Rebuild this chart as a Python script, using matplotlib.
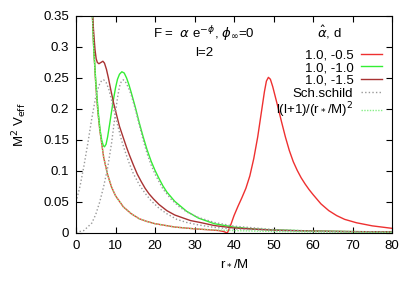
"""Effective potential M^2 V_eff vs tortoise coordinate r*/M (l=2)."""

import matplotlib
matplotlib.use("Agg")
import matplotlib.pyplot as plt

plt.rcParams["font.family"] = ["Liberation Sans", "DejaVu Sans"]
plt.rcParams["mathtext.fontset"] = "dejavusans"

# --- data -----------------------------------------------------------------
# alpha_hat = 1.0, d = -0.5
red_x = [4.0, 4.5, 5.0, 5.5, 6.0, 7.0, 8.0, 9.0, 10.0, 12.0, 14.0, 16.0, 18.0,
         20.0, 25.0, 30.0, 34.0, 36.0, 37.3, 38.3, 39.0, 40.0, 41.0, 42.0, 43.0,
         44.0, 45.0, 46.0, 47.0, 47.7, 48.2, 48.7, 49.2, 49.8, 50.4, 51.0, 52.0,
         53.0, 54.0, 55.0, 56.0, 57.0, 58.0, 59.0, 60.0, 62.0, 64.0, 66.0, 68.0,
         71.0, 75.0, 80.0]
red_y = [0.375, 0.296, 0.240, 0.198, 0.167, 0.122, 0.094, 0.074, 0.060, 0.042,
         0.031, 0.023, 0.0185, 0.015, 0.0096, 0.0067, 0.0050, 0.0040, 0.0025,
         0.0, 0.010, 0.028, 0.043, 0.057, 0.072, 0.092, 0.120, 0.155, 0.198,
         0.228, 0.245, 0.251, 0.248, 0.236, 0.221, 0.206, 0.180, 0.155, 0.133,
         0.115, 0.101, 0.089, 0.079, 0.070, 0.062, 0.047, 0.036, 0.028, 0.022,
         0.0165, 0.0115, 0.0075]

# alpha_hat = 1.0, d = -1.0
green_x = [4.0, 4.5, 5.0, 5.3, 5.7, 6.1, 6.5, 6.9, 7.2, 7.6, 8.0, 8.5, 9.0, 9.5,
           10.0, 10.5, 11.0, 11.6, 12.2, 12.8, 13.4, 14.0, 15.0, 16.0, 17.0,
           18.0, 19.0, 20.0, 21.0, 22.0, 23.0, 25.0, 28.0, 31.0, 35.0, 40.0,
           45.0, 50.0, 60.0, 70.0, 80.0]
green_y = [0.375, 0.296, 0.245, 0.220, 0.190, 0.166, 0.150, 0.141, 0.139, 0.143,
           0.155, 0.175, 0.196, 0.216, 0.234, 0.248, 0.256, 0.260, 0.258, 0.250,
           0.239, 0.226, 0.203, 0.178, 0.155, 0.134, 0.116, 0.101, 0.088, 0.076,
           0.066, 0.051, 0.035, 0.024, 0.015, 0.0095, 0.0065, 0.005, 0.0032,
           0.0023, 0.0017]

# alpha_hat = 1.0, d = -1.5
brown_x = [4.0, 4.4, 4.8, 5.1, 5.4, 5.8, 6.3, 6.8, 7.2, 7.7, 8.2, 8.8, 9.5,
           10.2, 11.0, 12.0, 12.8, 13.5, 14.5, 15.5, 16.5, 17.5, 18.5, 19.6,
           21.0, 23.0, 25.0, 27.2, 29.0, 31.4, 35.0, 40.0, 50.0, 60.0, 70.0, 80.0]
brown_y = [0.375, 0.330, 0.296, 0.281, 0.275, 0.273, 0.275, 0.277, 0.274, 0.264,
           0.250, 0.231, 0.210, 0.192, 0.172, 0.153, 0.138, 0.126, 0.110, 0.095,
           0.083, 0.072, 0.063, 0.055, 0.046, 0.036, 0.029, 0.024, 0.020, 0.017,
           0.012, 0.008, 0.0045, 0.003, 0.0022, 0.0017]

# Schwarzschild curves (two, same style)
sch1_x = [0.0, 1.0, 2.0, 3.0, 4.0, 5.0, 5.8, 6.5, 7.0, 7.6, 8.3, 9.0, 9.5, 10.5,
          11.5, 12.4, 13.5, 14.5, 16.0, 17.5, 19.0, 21.0, 23.0, 25.5, 28.0,
          31.0, 35.0, 40.0, 50.0, 60.0, 70.0, 80.0]
sch1_y = [0.050, 0.075, 0.108, 0.145, 0.185, 0.220, 0.238, 0.246, 0.247, 0.243,
          0.232, 0.214, 0.200, 0.175, 0.150, 0.132, 0.112, 0.096, 0.078, 0.064,
          0.052, 0.040, 0.031, 0.022, 0.017, 0.013, 0.009, 0.0065, 0.004,
          0.0025, 0.0018, 0.0013]
sch2_x = [0.0, 2.0, 4.0, 5.0, 6.0, 7.0, 8.0, 9.0, 9.5, 10.0, 10.5, 11.0, 11.5,
          12.0, 12.5, 13.3, 14.0, 15.0, 16.0, 17.0, 18.0, 19.0, 20.0, 22.0,
          24.0, 26.0, 28.0, 31.0, 35.0, 40.0, 50.0, 60.0, 70.0, 80.0]
sch2_y = [0.001, 0.004, 0.016, 0.030, 0.050, 0.075, 0.105, 0.145, 0.170, 0.195,
          0.218, 0.236, 0.245, 0.247, 0.244, 0.234, 0.222, 0.200, 0.175, 0.150,
          0.128, 0.110, 0.095, 0.071, 0.055, 0.043, 0.034, 0.025, 0.017, 0.011,
          0.0055, 0.0032, 0.0021, 0.0015]

# l(l+1)/(r*/M)^2
cent_x = [4.0, 4.5, 5.0, 5.5, 6.0, 7.0, 8.0, 9.0, 10.0, 12.0, 14.0, 16.0, 18.0,
          20.0, 25.0, 30.0, 35.0, 40.0, 50.0, 60.0, 70.0, 80.0]
cent_y = [0.375, 0.296, 0.240, 0.198, 0.167, 0.122, 0.094, 0.074, 0.060, 0.042,
          0.031, 0.023, 0.0185, 0.015, 0.0096, 0.0067, 0.0049, 0.0038, 0.0024,
          0.0017, 0.0012, 0.0009]

labels = ["1.0, -0.5", "1.0, -1.0", "1.0, -1.5", "Sch.schild",
          r"l(l+1)/(r$_*$/M)$^2$"]

x_ticks = [0, 10, 20, 30, 40, 50, 60, 70, 80]
y_ticks = [0, 0.05, 0.1, 0.15, 0.2, 0.25, 0.3, 0.35]
y_tick_labels = ["0", "0.05", "0.1", "0.15", "0.2", "0.25", "0.3", "0.35"]


def main() -> None:
    fig = plt.figure(figsize=(4.17, 2.92), dpi=100)
    ax = fig.add_axes([0.1823, 0.2021, 0.7578, 0.7432])

    lw = 1.0
    ax.plot(red_x, red_y, color="#ee3030", lw=lw, label=labels[0])
    ax.plot(green_x, green_y, color="#33ee33", lw=lw, label=labels[1])
    ax.plot(brown_x, brown_y, color="#a83232", lw=lw, label=labels[2])
    dots = (0, (1.0, 1.6))
    ax.plot(sch1_x, sch1_y, color="#999999", lw=lw, ls=dots, label=labels[3])
    ax.plot(sch2_x, sch2_y, color="#999999", lw=lw, ls=dots)
    ax.plot(cent_x, cent_y, color="#88ee88", lw=lw, ls=(0, (1.0, 1.0)),
            label=labels[4])

    ax.set_xlim(0, 80)
    ax.set_ylim(0, 0.35)
    ax.set_xticks(x_ticks)
    ax.set_yticks(y_ticks)
    ax.set_yticklabels(y_tick_labels)
    ax.tick_params(direction="in", top=True, right=True, length=4,
                   labelsize=9.5, pad=5)

    ax.set_xlabel(r"r$_*$/M", fontsize=9.5, labelpad=4)
    ax.set_ylabel(r"M$^2$ V$_{\rm eff}$", fontsize=9.5, labelpad=10)

    ax.text(32.4, 0.322, r"F =  $\alpha$ e$^{-\phi}$, $\phi_\infty$=0",
            ha="center", va="center", fontsize=9.5)
    ax.text(32.4, 0.290, "l=2", ha="center", va="center", fontsize=9.5)

    leg = ax.legend(loc="upper right", bbox_to_anchor=(0.986, 0.99),
                    markerfirst=False, frameon=False, fontsize=9.5,
                    title=r"$\hat{\alpha}$, d", title_fontsize=9.5,
                    handlelength=1.6, handletextpad=0.6, labelspacing=0.05,
                    borderaxespad=0.0)
    leg._legend_box.sep = 6

    fig.savefig("out.png", dpi=100)


if __name__ == "__main__":
    main()
